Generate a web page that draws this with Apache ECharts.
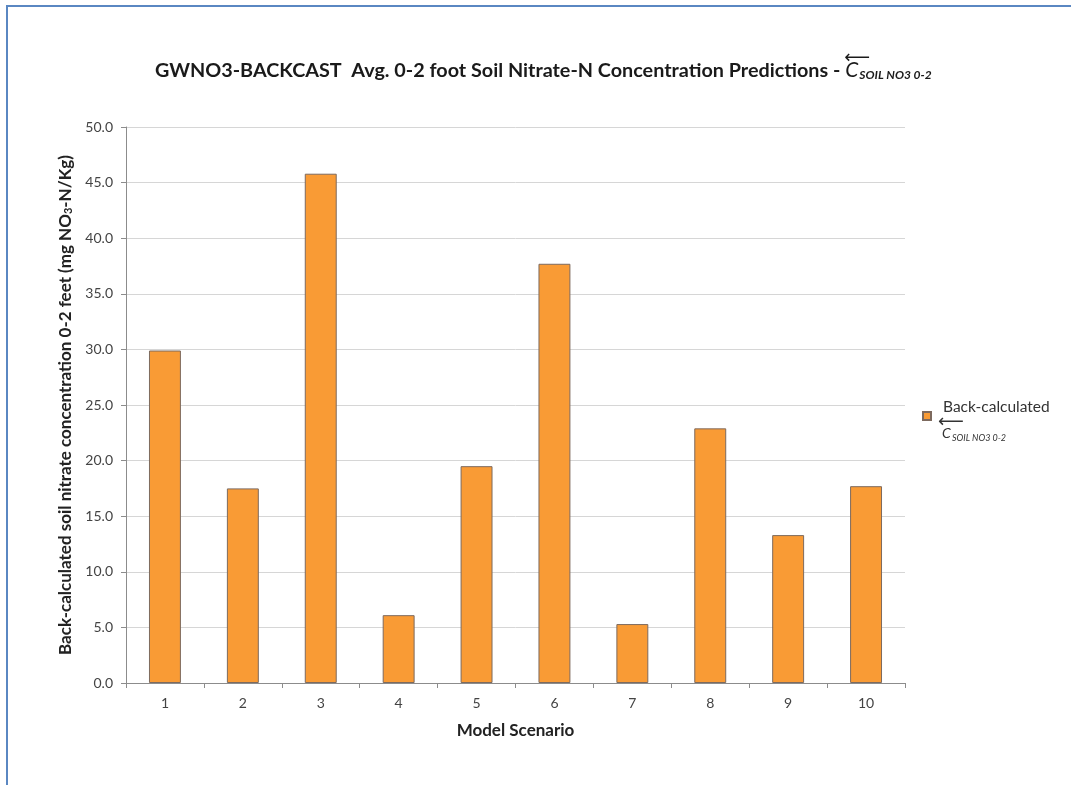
<!DOCTYPE html>
<html><head><meta charset="utf-8">
<script src="https://cdn.jsdelivr.net/npm/echarts@6/dist/echarts.min.js"></script>
<style>
html,body{margin:0;padding:0;background:#fff;}
#wrap{position:relative;width:1071px;height:785px;overflow:hidden;}
#frame{position:absolute;left:6px;top:5px;width:1200px;height:900px;border-left:2px solid #5a87c2;border-top:2px solid #5a87c2;box-sizing:border-box;pointer-events:none;z-index:2;}
#chart{position:absolute;left:0;top:0;width:1071px;height:785px;}
</style></head>
<body><div id="wrap"><div id="chart"></div><div id="frame"></div></div>
<script>
const categories = ['1','2','3','4','5','6','7','8','9','10'];
const backCalculated = [29.9, 17.5, 45.8, 6.1, 19.5, 37.7, 5.3, 22.9, 13.3, 17.7];
const seriesName = 'Back-calculated';
const titleMain = 'GWNO3-BACKCAST  Avg. 0-2 foot Soil Nitrate-N Concentration Predictions - ';
const subLabel = 'SOIL NO3 0-2';

const FONT = 'Lato, "Open Sans", sans-serif';
const chart = echarts.init(document.getElementById('chart'), null, {renderer:'canvas'});

const ctx = document.createElement('canvas').getContext('2d');
ctx.font = 'bold 19.8px Lato';
const titleLeft = 155;
const mainW = ctx.measureText(titleMain).width;

chart.setOption({
  animation:false,
  backgroundColor:'#fff',
  textStyle:{fontFamily:FONT},
  title:{
    left:titleLeft, top:60, padding:0,
    text:titleMain + '{c|C}{s|' + subLabel + '}',
    textStyle:{
      fontFamily:FONT, fontSize:19.8, fontWeight:'bold', color:'#1a1a1a',
      rich:{
        c:{fontFamily:FONT, fontSize:21, fontStyle:'italic', fontWeight:'normal', color:'#1a1a1a'},
        s:{fontFamily:FONT, fontSize:12, fontStyle:'italic', fontWeight:'bold', color:'#1a1a1a', padding:[9,0,0,1]}
      }
    }
  },
  grid:{left:126, right:166, top:127, bottom:102, containLabel:false},
  legend:{
    orient:'vertical', left:922, top:398, padding:0,
    itemWidth:8, itemHeight:8, icon:'rect',
    data:[seriesName],
    formatter:function(n){ return n + '\n '; },
    textStyle:{fontFamily:FONT, fontSize:15.5, color:'#333', lineHeight:18, padding:[0,0,0,7]}
  },
  xAxis:{
    type:'category', data:categories,
    name:'Model Scenario', nameLocation:'middle', nameGap:39,
    nameTextStyle:{fontFamily:FONT, fontSize:17, fontWeight:'bold', color:'#222'},
    axisLine:{lineStyle:{color:'#8c8c8c'}},
    axisTick:{show:true, alignWithLabel:false, length:5, lineStyle:{color:'#8c8c8c'}},
    axisLabel:{fontFamily:FONT, fontSize:14, color:'#444', margin:13}
  },
  yAxis:{
    type:'value', min:0, max:50, interval:5,
    name:'Back-calculated soil nitrate concentration 0-2 feet (mg NO{sub|3}-N/Kg)',
    nameLocation:'middle', nameGap:50,
    nameTextStyle:{fontFamily:FONT, fontSize:17, fontWeight:'bold', color:'#222',
      rich:{sub:{fontFamily:FONT, fontSize:11, fontWeight:'bold', color:'#222', padding:[7,0,0,0]}}},
    axisLine:{show:true, lineStyle:{color:'#8c8c8c'}},
    axisTick:{show:true, length:5, lineStyle:{color:'#8c8c8c'}},
    axisLabel:{fontFamily:FONT, fontSize:14, color:'#444', margin:13,
      formatter:function(v){return v.toFixed(1);}},
    splitLine:{lineStyle:{color:'#d6d6d6', width:1}}
  },
  series:[{
    name:seriesName, type:'bar', data:backCalculated, barWidth:'41%',
    itemStyle:{color:'#f99b35', borderColor:'#7d6a5e', borderWidth:1}
  }],
  graphic:[
    {type:'text', left:titleLeft + mainW - 1, top:49,
     style:{text:'\u27F5', fontFamily:'DejaVu Sans', fontSize:18, fill:'#1a1a1a'}},
    {type:'text', left:938, top:413,
     style:{text:'\u27F5', fontFamily:'DejaVu Sans', fontSize:18, fill:'#333'}},
    {type:'text', left:942, top:426,
     style:{text:'C', fontFamily:FONT, fontSize:14, fontStyle:'italic', fill:'#333'}},
    {type:'text', left:952, top:434,
     style:{text:subLabel, fontFamily:FONT, fontSize:9, fontStyle:'italic', fill:'#333'}}
  ]
});
</script></body></html>
